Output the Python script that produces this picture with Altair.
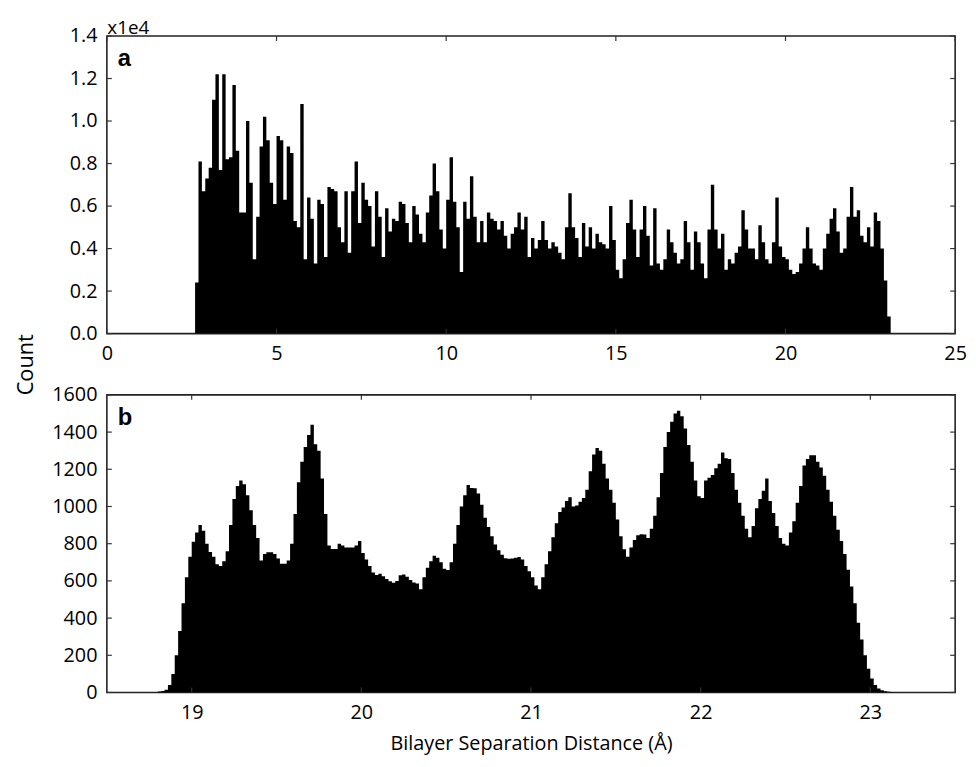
import altair as alt
import pandas as pd

# ---------------- data ----------------
# Panel a: histogram, bins of 0.1 A starting at 2.6 A, counts in units of 1e4
a_bin_start = 2.6
a_bin_width = 0.1
a_counts_1e4 = [
    0.24, 0.81, 0.67, 0.73, 0.78, 1.10, 1.22, 0.77, 1.22, 0.82,
    0.83, 1.17, 0.86, 0.57, 0.57, 1.00, 0.71, 0.35, 0.55, 0.88,
    1.02, 0.91, 0.71, 0.61, 0.93, 0.91, 0.63, 0.88, 0.85, 0.53,
    0.50, 1.08, 0.35, 0.64, 0.54, 0.33, 0.63, 0.61, 0.36, 0.69,
    0.68, 0.67, 0.50, 0.43, 0.67, 0.38, 0.67, 0.81, 0.52, 0.71,
    0.63, 0.60, 0.41, 0.67, 0.55,
    0.36, 0.59, 0.48, 0.54, 0.53, 0.62, 0.61, 0.52, 0.43, 0.60,
    0.56, 0.47, 0.43, 0.57, 0.65, 0.80, 0.67, 0.49, 0.40, 0.63,
    0.83, 0.62, 0.50, 0.29, 0.62, 0.54, 0.74, 0.55, 0.43, 0.53,
    0.43, 0.57, 0.54, 0.53, 0.49, 0.53, 0.46, 0.40, 0.47, 0.50,
    0.57, 0.49, 0.55, 0.36, 0.45, 0.40, 0.44, 0.53, 0.44, 0.40,
    0.43, 0.41, 0.38, 0.35, 0.50, 0.66, 0.50,
    0.45, 0.36, 0.52, 0.41, 0.50, 0.40, 0.47, 0.43, 0.42, 0.40,
    0.60, 0.44, 0.30, 0.26, 0.35, 0.52, 0.63, 0.49, 0.36, 0.49,
    0.60, 0.46, 0.32, 0.59, 0.33, 0.30, 0.35, 0.49, 0.43, 0.38,
    0.33, 0.35, 0.53, 0.43, 0.30, 0.48, 0.43, 0.33, 0.26, 0.49,
    0.70, 0.49, 0.40, 0.47, 0.30, 0.35, 0.33, 0.38, 0.41, 0.58,
    0.49, 0.40, 0.40, 0.35, 0.51, 0.43, 0.35,
    0.33, 0.43, 0.64, 0.41, 0.36, 0.35, 0.30, 0.28, 0.29, 0.33,
    0.40, 0.50, 0.40, 0.33, 0.32, 0.30, 0.40, 0.47, 0.54, 0.59,
    0.48, 0.38, 0.40, 0.55, 0.69, 0.55, 0.58, 0.46, 0.43, 0.50,
    0.41, 0.57, 0.53, 0.40, 0.25, 0.08,
]

# Panel b: histogram, bins of 0.02 A starting at 18.80 A
b_bin_start = 18.80
b_bin_width = 0.02
b_counts = [
    5, 8, 15, 40, 100, 200, 330, 480, 620, 730,
    810, 860, 900, 870, 800, 755, 730, 690, 680, 705,
    760, 900, 1040, 1110, 1140, 1120, 1060, 980, 900, 830,
    710, 745, 754, 754, 745, 720, 692, 692, 710, 800,
    960, 1130, 1240, 1320, 1385, 1440, 1335, 1300, 1150, 960,
    790, 772, 772, 800, 790, 780, 780, 780, 790, 815,
    750, 715, 680, 645, 632, 639, 625, 610, 598, 590,
    600, 630, 635, 622, 605, 592, 586, 555, 620, 670,
    705, 735, 725, 700, 665, 658, 700, 800, 900, 1000,
    1060, 1115, 1100, 1098, 1070, 1010, 940, 890, 840, 795,
    765, 740, 722, 719, 720, 725, 728, 715, 680, 652,
    620, 575, 555, 620, 690, 760, 835, 910, 970, 995,
    1030, 1050, 1000, 1005, 1025, 1045, 1090, 1190, 1280, 1315,
    1300, 1230, 1150, 1090, 1020, 930, 840, 770, 730, 780,
    820, 845, 851, 850, 830, 880, 950, 1050, 1180, 1320,
    1400, 1455, 1500, 1515, 1485, 1420, 1330, 1240, 1140, 1055,
    1045, 1140, 1155, 1170, 1205, 1230, 1290, 1260, 1255, 1180,
    1090, 1020, 950, 880, 835, 895, 990, 1040, 1085, 1150,
    1030, 965, 895, 830, 800, 790, 860, 920, 1020, 1110,
    1220, 1255, 1275, 1275, 1240, 1210, 1165, 1090, 1025, 950,
    875, 815, 745, 660, 570, 480, 375, 285, 200, 128,
    75, 40, 21, 12, 7, 4, 2, 1, 0, 0,
]

a_x_ticks = [0, 5, 10, 15, 20, 25]
a_y_ticks = [0.0, 0.2, 0.4, 0.6, 0.8, 1.0, 1.2, 1.4]
b_x_ticks = [19, 20, 21, 22, 23]
b_y_ticks = [0, 200, 400, 600, 800, 1000, 1200, 1400, 1600]

# ---------------- styling ----------------
FONT = "Open Sans"
W, H = 858, 301
TL = 5  # inward tick length
TEXT = "#000000"


def hist_df(start, width, vals):
    edges = [round(start + i * width, 4) for i in range(len(vals) + 1)]
    return pd.DataFrame({"x": edges, "y": list(vals) + [0]})


def axis(**kw):
    d = dict(labelFont=FONT, labelFontSize=20, labelColor=TEXT, ticks=False,
             domain=False, grid=False, labelFlush=False, labelOverlap=False)
    d.update(kw)
    return alt.Axis(**d)


def panel(df, xscale, yscale, xaxis, yaxis, xticks, yticks, label):
    area = alt.Chart(df).mark_area(interpolate="step-after", color="black", clip=True).encode(
        x=alt.X("x:Q", scale=xscale, axis=xaxis),
        y=alt.Y("y:Q", scale=yscale, axis=yaxis),
    )
    tx = pd.DataFrame({"x": xticks})
    ty = pd.DataFrame({"y": yticks})
    rule = dict(color="#333333", strokeWidth=1.2)
    xe = alt.X("x:Q", scale=xscale, axis=xaxis)
    ye = alt.Y("y:Q", scale=yscale, axis=yaxis)
    top = alt.Chart(tx).mark_rule(**rule).encode(x=xe, y=alt.value(0), y2=alt.value(TL))
    bot = alt.Chart(tx).mark_rule(**rule).encode(x=xe, y=alt.value(H - TL), y2=alt.value(H))
    left = alt.Chart(ty).mark_rule(**rule).encode(y=ye, x=alt.value(0), x2=alt.value(TL))
    right = alt.Chart(ty).mark_rule(**rule).encode(y=ye, x=alt.value(W - TL), x2=alt.value(W))
    lab = alt.Chart(pd.DataFrame({"t": [label]})).mark_text(
        font="Liberation Sans", fontWeight="bold", fontSize=24, align="left",
        baseline="alphabetic", color="black"
    ).encode(x=alt.value(11), y=alt.value(30), text="t:N")
    return alt.layer(area, top, bot, left, right, lab).properties(width=W, height=H)


# ---------------- panel a ----------------
xs_a = alt.Scale(domain=[0, 25], nice=False, zero=False)
ys_a = alt.Scale(domain=[0, 1.4], nice=False)
xax_a = axis(values=a_x_ticks, format="d", labelPadding=10, title=None)
yax_a = axis(values=a_y_ticks, format=".1f", labelPadding=10, title="x1e4",
             titleX=0, titleY=-3, titleAngle=0, titleAlign="left", titleBaseline="alphabetic",
             titleFont=FONT, titleFontSize=19, titleFontWeight="normal", titleColor=TEXT)
panel_a = panel(hist_df(a_bin_start, a_bin_width, a_counts_1e4), xs_a, ys_a, xax_a, yax_a,
                a_x_ticks, a_y_ticks, "a")

# ---------------- panel b ----------------
xs_b = alt.Scale(domain=[18.5, 23.5], nice=False, zero=False)
ys_b = alt.Scale(domain=[0, 1600], nice=False)
xax_b = axis(values=b_x_ticks, format="d", labelPadding=10, title="Bilayer Separation Distance (Å)",
             titleFont=FONT, titleFontSize=20, titleFontWeight="normal", titleColor=TEXT, titlePadding=12)
yax_b = axis(values=b_y_ticks, format="d", labelPadding=10, title="Count",
             titleX=-82, titleY=-31, titleAngle=270, titleAlign="center", titleBaseline="middle",
             titleFont=FONT, titleFontSize=22, titleFontWeight="normal", titleColor=TEXT)
panel_b = panel(hist_df(b_bin_start, b_bin_width, b_counts), xs_b, ys_b, xax_b, yax_b,
                b_x_ticks, b_y_ticks, "b")

chart = alt.vconcat(panel_a, panel_b, spacing=62, bounds="flush").properties(
    padding={"left": 6, "top": 5, "right": 0, "bottom": 5}
).configure(background="white").configure_view(stroke="#222222", strokeWidth=1.6)

chart.save("out.html", embed_options={"renderer": "svg", "actions": False})
